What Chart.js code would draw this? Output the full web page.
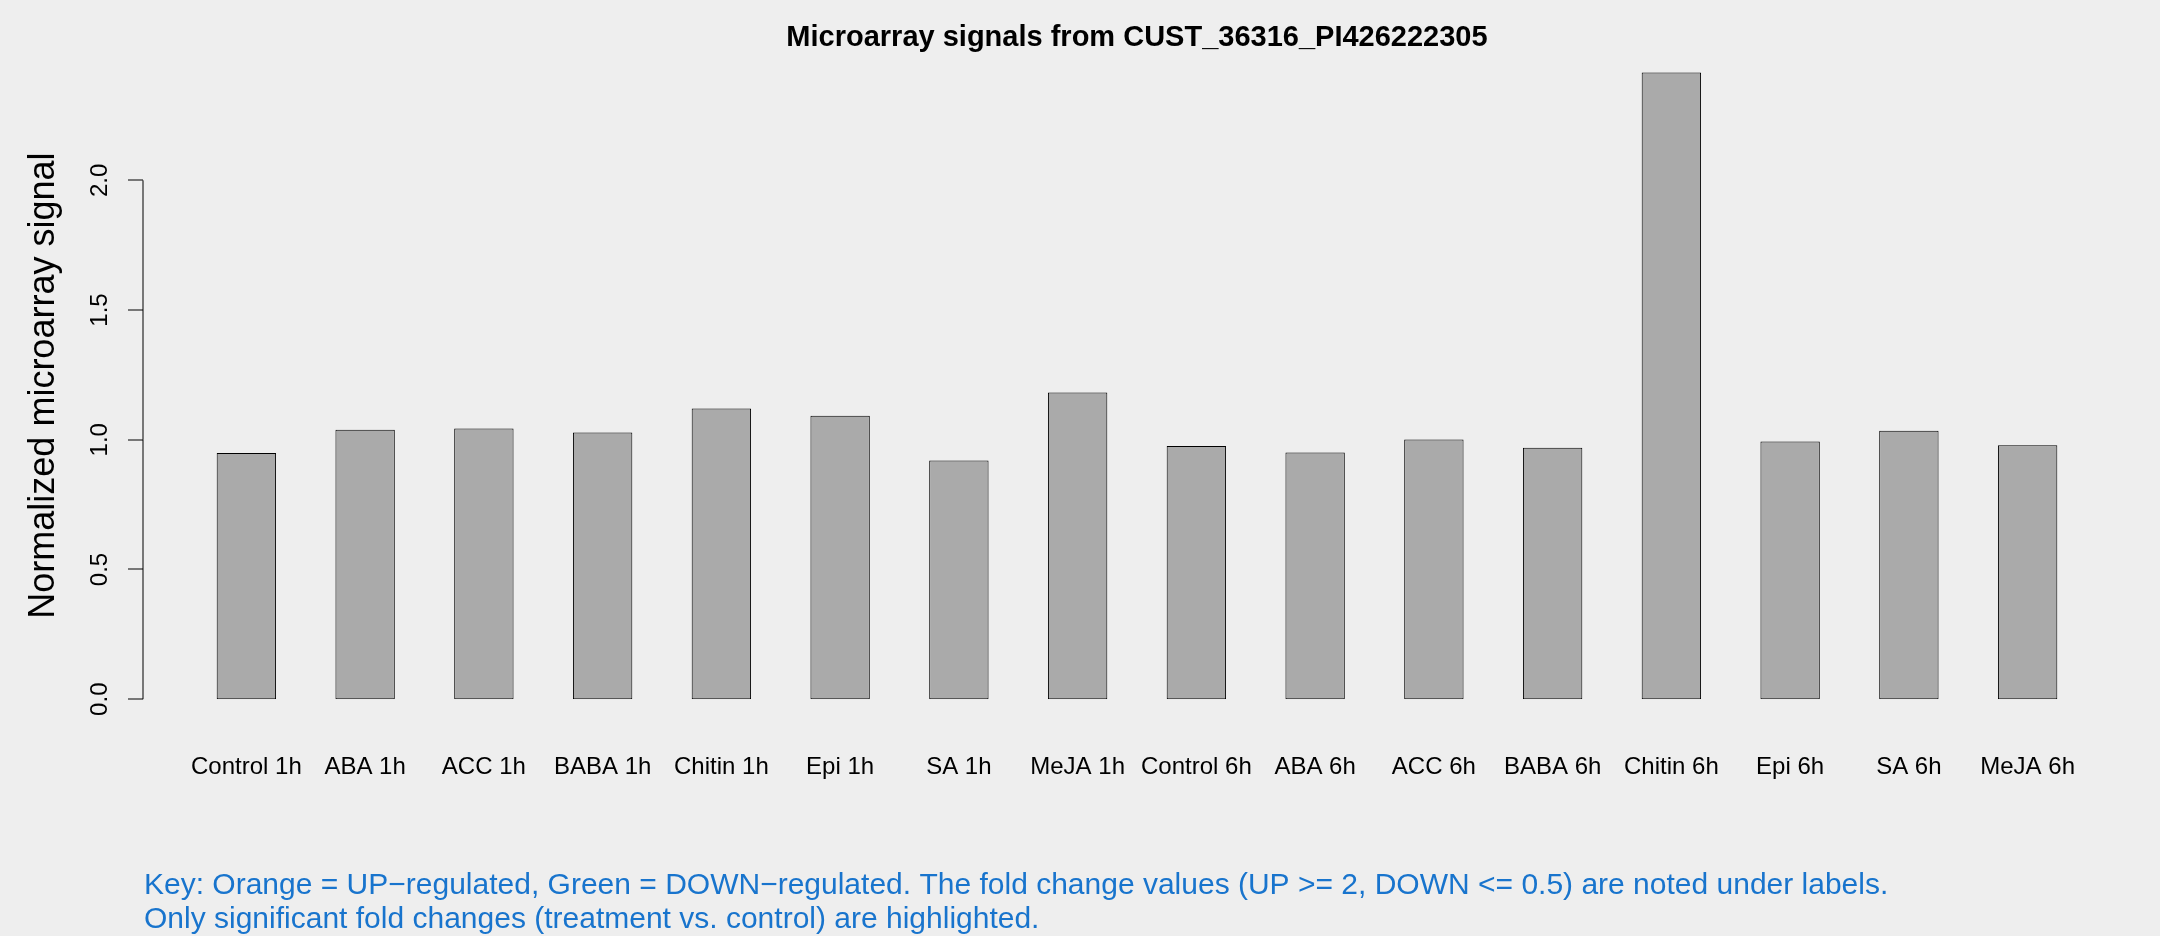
<!DOCTYPE html>
<html>
<head>
<meta charset="utf-8">
<script src="https://cdn.jsdelivr.net/npm/chart.js@4/dist/chart.umd.min.js"></script>
<style>
  html, body { margin: 0; padding: 0; background: #eeeeee; }
  canvas { display: block; }
</style>
</head>
<body>
<canvas id="c" width="2160" height="936"></canvas>
<script>
const chartTitle = 'Microarray signals from CUST_36316_PI426222305';
const yAxisTitle = 'Normalized microarray signal';
const categories = ['Control 1h','ABA 1h','ACC 1h','BABA 1h','Chitin 1h','Epi 1h','SA 1h','MeJA 1h',
                    'Control 6h','ABA 6h','ACC 6h','BABA 6h','Chitin 6h','Epi 6h','SA 6h','MeJA 6h'];
const signalValues = [0.949,1.039,1.043,1.028,1.120,1.093,0.920,1.182,
                      0.976,0.951,1.001,0.969,2.416,0.993,1.035,0.979];
const yTickValues = [0, 0.5, 1.0, 1.5, 2.0];
const yTickLabels = ['0.0','0.5','1.0','1.5','2.0'];
const keyLines = [
  'Key: Orange = UP\u2212regulated, Green = DOWN\u2212regulated. The fold change values (UP >= 2, DOWN <= 0.5) are noted under labels.',
  'Only significant fold changes (treatment vs. control) are highlighted.'
];

const FONT = '"Liberation Sans", Arial, Helvetica, sans-serif';

const decorPlugin = {
  id: 'decor',
  beforeDraw(chart) {
    const ctx = chart.ctx;
    ctx.save();
    ctx.fillStyle = '#eeeeee';
    ctx.fillRect(0, 0, chart.width, chart.height);
    ctx.restore();
  },
  afterDraw(chart) {
    const ctx = chart.ctx;
    const xs = chart.scales.x;
    const ys = chart.scales.y;
    const half = (xs.getPixelForValue(1) - xs.getPixelForValue(0)) / 2; // one bar width
    const axisX = Math.round(xs.getPixelForValue(0) - 1.74 * half);
    const plotRight = xs.getPixelForValue(categories.length - 1) + 1.74 * half;

    ctx.save();
    // y axis line + ticks
    ctx.strokeStyle = '#000';
    ctx.lineWidth = 1;
    ctx.beginPath();
    ctx.moveTo(axisX, ys.getPixelForValue(yTickValues[0]));
    ctx.lineTo(axisX, ys.getPixelForValue(yTickValues[yTickValues.length - 1]));
    yTickValues.forEach(v => {
      const py = Math.round(ys.getPixelForValue(v));
      ctx.moveTo(axisX - 15, py);
      ctx.lineTo(axisX, py);
    });
    ctx.stroke();

    // y tick labels, rotated
    ctx.fillStyle = '#000';
    ctx.font = '24px ' + FONT;
    ctx.textAlign = 'center';
    ctx.textBaseline = 'alphabetic';
    yTickValues.forEach((v, i) => {
      const py = ys.getPixelForValue(v);
      ctx.save();
      ctx.translate(axisX - 36, py);
      ctx.rotate(-Math.PI / 2);
      ctx.fillText(yTickLabels[i], 0, 0);
      ctx.restore();
    });

    // y axis title
    ctx.font = '36px ' + FONT;
    ctx.save();
    ctx.translate(axisX - 89, (chart.chartArea.top + chart.chartArea.bottom) / 2 + 12);
    ctx.rotate(-Math.PI / 2);
    ctx.fillText(yAxisTitle, 0, 0);
    ctx.restore();

    // title
    ctx.font = 'bold 29px ' + FONT;
    ctx.textAlign = 'center';
    ctx.fillText(chartTitle, (axisX + plotRight) / 2, 46);

    // key text
    ctx.fillStyle = '#1874CD';
    ctx.font = '30px ' + FONT;
    ctx.textAlign = 'left';
    ctx.fillText(keyLines[0], axisX + 1, 894);
    ctx.fillText(keyLines[1], axisX + 1, 928);
    ctx.restore();
  }
};

new Chart(document.getElementById('c'), {
  type: 'bar',
  data: {
    labels: categories,
    datasets: [{
      data: signalValues,
      backgroundColor: '#aaaaaa',
      borderColor: '#000000',
      borderWidth: 1,
      borderSkipped: false,
      categoryPercentage: 1.0,
      barPercentage: 0.5
    }]
  },
  options: {
    responsive: false,
    animation: false,
    devicePixelRatio: 1,
    layout: { padding: { left: 187, right: 73, top: 48, bottom: 100 } },
    plugins: { legend: { display: false }, tooltip: { enabled: false }, title: { display: false } },
    scales: {
      x: {
        type: 'category',
        grid: { display: false, drawTicks: false },
        border: { display: false },
        ticks: {
          autoSkip: false, maxRotation: 0, minRotation: 0,
          color: '#000', padding: 54,
          font: { family: FONT, size: 24 }
        }
      },
      y: {
        display: false,
        min: 0,
        max: 2.51
      }
    }
  },
  plugins: [decorPlugin]
});
</script>
</body>
</html>
